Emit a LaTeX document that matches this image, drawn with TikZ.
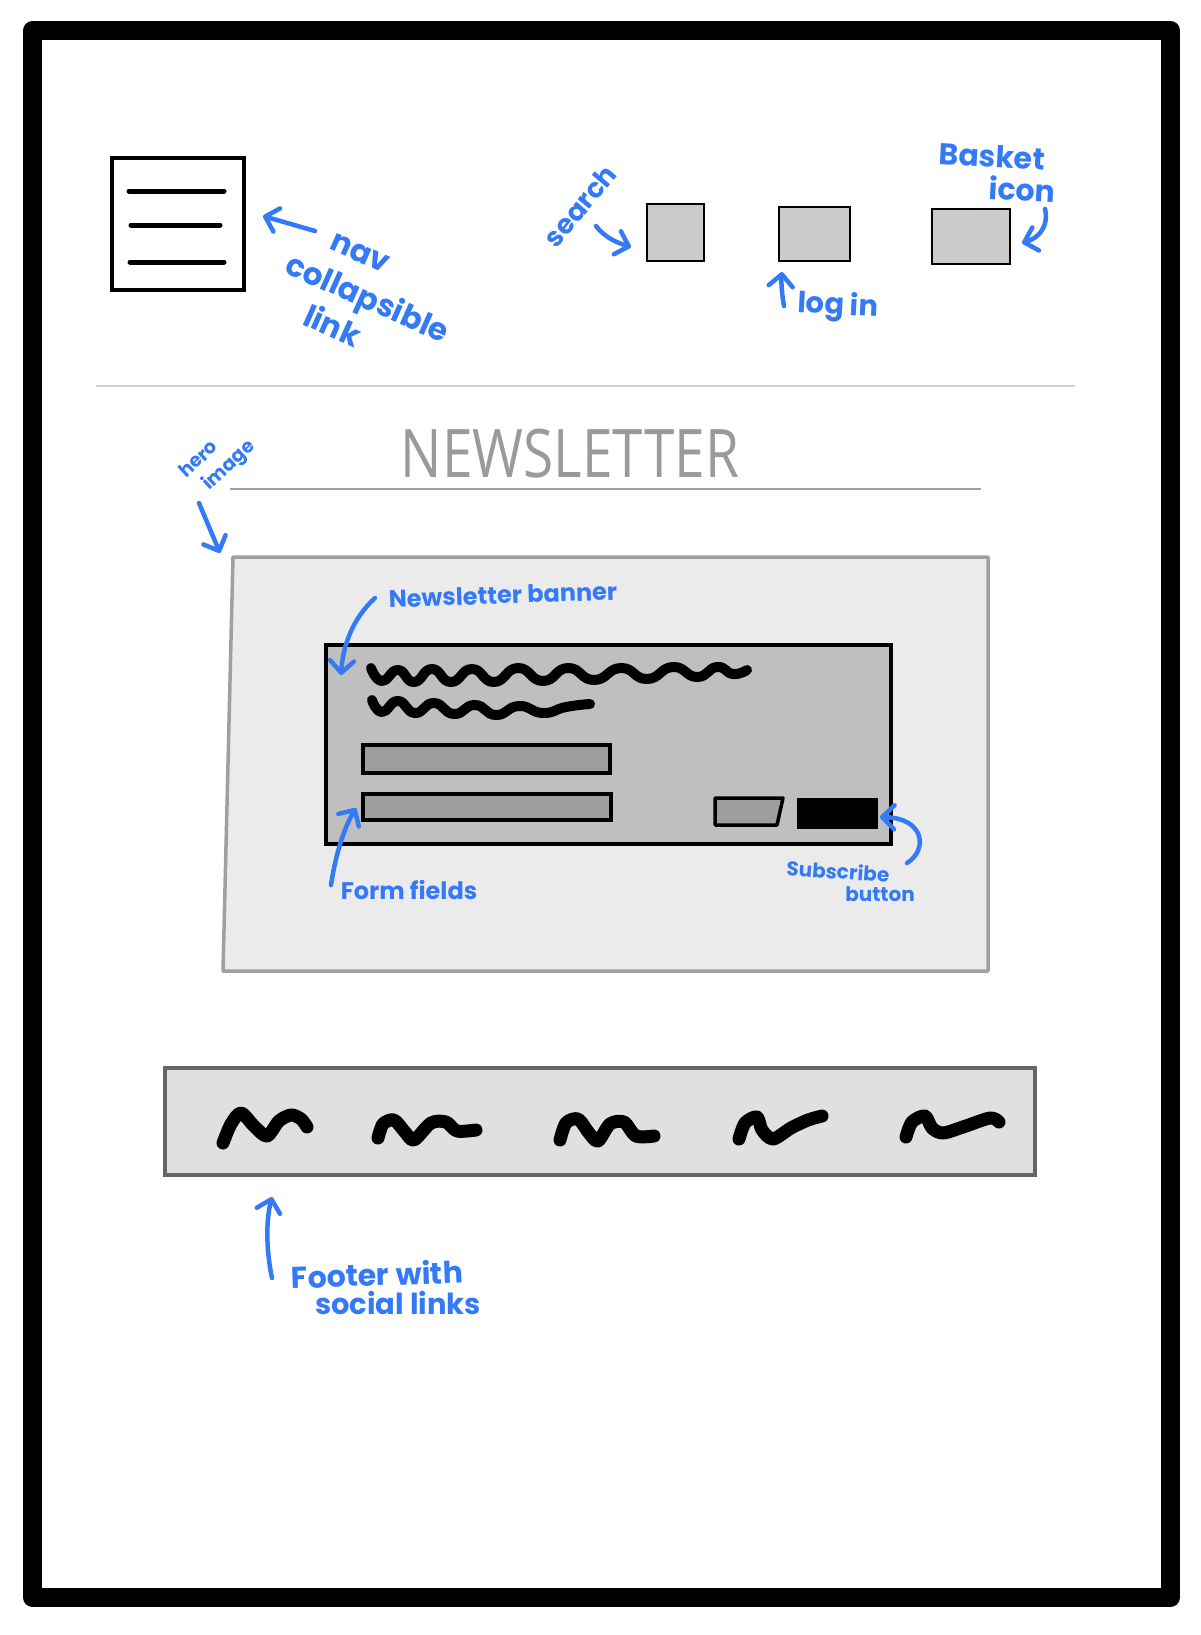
\documentclass[tikz,border=0pt]{standalone}
\usepackage{fontspec}
\setmainfont{Poppins}
\newfontfamily\titlefont{Open Sans}
\usetikzlibrary{arrows.meta}

\definecolor{ink}{RGB}{52,122,246}
\definecolor{rulegray}{RGB}{208,208,208}
\definecolor{titlegray}{RGB}{154,154,154}
\definecolor{heroedge}{RGB}{160,160,160}
\definecolor{herofill}{RGB}{235,235,235}
\definecolor{bannerfill}{RGB}{191,191,191}
\definecolor{fieldfill}{RGB}{158,158,158}
\definecolor{iconfill}{RGB}{203,203,203}
\definecolor{footfill}{RGB}{224,224,224}
\definecolor{footedge}{RGB}{102,102,102}

\tikzset{
  note/.style={text=ink, inner sep=0pt, font=\fontsize{#1}{#1}\selectfont\bfseries},
  note/.default=30,
  pointer/.style={draw=ink, line width=4.5, line cap=round, line join=round,
    -{Straight Barb[length=12,width=24,round]}},
  iconbox/.style={draw=black, line width=2.5, fill=iconfill, inner sep=0pt},
  field/.style={draw=black, line width=3.5, fill=fieldfill, inner sep=0pt},
  menuline/.style={line width=5, line cap=round},
  squiggle/.style={line width=10, line cap=round, line join=round},
  linkmark/.style={line width=13, line cap=round, line join=round},
}

\begin{document}
\begin{tikzpicture}[x=1pt, y=-1pt]
\useasboundingbox[fill=white] (0,0) rectangle (1201,1635);

% page frame
\draw[line width=19, line join=round] (32.5,30.5) rectangle (1170.5,1597.5);

% header: menu button
\node[draw=black, line width=4, minimum width=132, minimum height=132, inner sep=0pt] (menu) at (178,224) {};
\draw[menuline] (129,191) -- (224,191);
\draw[menuline] (131,225) -- (220,225);
\draw[menuline] (130,262) -- (224,262);

% header: icons
\node[iconbox, minimum width=57, minimum height=57] (search) at (675.5,232.5) {};
\node[iconbox, minimum width=71, minimum height=54] (login) at (814.5,234) {};
\node[iconbox, minimum width=78, minimum height=55] (basket) at (971,236.5) {};

% header divider
\draw[rulegray, line width=2] (96,386) -- (1075,386);

% page title
\node[text=titlegray, inner sep=0pt, xscale=0.82, transform shape,
      font=\fontsize{67}{67}\selectfont\titlefont] (title) at (570,454) {NEWSLETTER};
\draw[heroedge, line width=2] (230,489) -- (981,489);

% hero image
\coordinate (heroTL) at (233,557);
\coordinate (heroTR) at (988,557);
\coordinate (heroBR) at (988,971);
\coordinate (heroBL) at (223,971);
\draw[heroedge, fill=herofill, line width=3.5, line join=round]
  (heroTL) -- (heroTR) -- (heroBR) -- (heroBL) -- cycle;

% newsletter banner
\node[draw=black, line width=3.5, fill=bannerfill, minimum width=565, minimum height=199, inner sep=0pt] (banner) at (608.5,744.5) {};
\draw[squiggle] plot[smooth, tension=0.9] coordinates {
  (371,668) (382,681) (398,670) (414,682) (432,669) (451,682) (472,669) (494,682)
  (518,668) (543,681) (568,668) (594,680) (621,668) (647,679) (673,667) (697,677)
  (717,667) (733,674) (747,670)};
\draw[squiggle] plot[smooth, tension=0.9] coordinates {
  (372,700) (382,712) (398,701) (415,713) (434,703) (454,714) (475,705) (496,715)
  (519,706) (543,713) (566,707) (590,704)};

% form fields and buttons
\node[field, minimum width=247, minimum height=28] (field1) at (486.5,759) {};
\node[field, minimum width=248, minimum height=26] (field2) at (487,807) {};
\coordinate (resetA) at (715,798);
\coordinate (resetB) at (783,798);
\coordinate (resetC) at (777,825);
\coordinate (resetD) at (715,825);
\draw[field, line join=round] (resetA) -- (resetB) -- (resetC) -- (resetD) -- cycle;
\node[draw=black, fill=black, line width=1, minimum width=80, minimum height=30, inner sep=0pt] (subscribe) at (837,813) {};

% footer with social links
\node[draw=footedge, fill=footfill, line width=4.5, minimum width=870, minimum height=107, inner sep=0pt] (footer) at (600,1121.5) {};
\draw[linkmark] plot[smooth, tension=0.5] coordinates {
  (223,1143) (231,1124) (241,1113) (254,1126) (267,1136) (279,1121) (291,1115) (301,1119) (307,1127)};
\draw[linkmark] plot[smooth, tension=0.5] coordinates {
  (378,1138) (383,1124) (394,1120) (405,1132) (414,1140) (431,1123) (446,1122) (457,1131) (476,1130)};
\draw[linkmark] plot[smooth, tension=0.5] coordinates {
  (560,1140) (566,1123) (578,1119) (589,1133) (598,1141) (610,1124) (624,1122) (636,1136) (654,1136)};
\draw[linkmark] plot[smooth, tension=0.5] coordinates {
  (739,1139) (745,1123) (757,1117) (762,1130) (773,1139) (791,1128) (808,1120) (822,1116)};
\draw[linkmark] plot[smooth, tension=0.5] coordinates {
  (906,1137) (912,1122) (925,1116) (932,1128) (943,1133) (963,1127) (990,1118) (999,1122)};

% annotations
\node[note, rotate=-24, align=left, font=\fontsize{31}{40}\selectfont\bfseries] (navNote) at (367,300)
  {\hspace*{31pt}nav\\collapsible\\\hspace*{37pt}link};
\coordinate (navTail) at (315,231);
\coordinate (navTip) at (263,216);
\draw[pointer] (navTail) -- (navTip);

\node[note=27, rotate=50] (searchNote) at (580,206) {search};
\coordinate (searchTail) at (596,226);
\coordinate (searchTip) at (631,247);
\draw[pointer] (searchTail) .. controls (605,238) and (618,243) .. (searchTip);

\node[note=29, rotate=-3] (loginNote) at (838,307) {log in};
\coordinate (loginTail) at (784,306);
\coordinate (loginTip) at (782,272);
\draw[pointer] (loginTail) .. controls (782,295) and (781,283) .. (loginTip);

\node[note=30, rotate=-3] (basketNoteA) at (992,156) {Basket};
\node[note=30, rotate=-3] (basketNoteB) at (1022,189) {icon};
\coordinate (basketTail) at (1045,209);
\coordinate (basketTip) at (1022,243);
\draw[pointer] (basketTail) .. controls (1049,226) and (1039,238) .. (basketTip);

\node[note, rotate=43, align=left, font=\fontsize{19}{25}\selectfont\bfseries] (heroNote) at (218,460)
  {hero\\\hspace*{9pt}image};
\coordinate (heroTail) at (199,503);
\coordinate (heroTip) at (220,553);
\draw[pointer] (heroTail) -- (heroTip);

\node[note=24, rotate=2] (bannerNote) at (503,595) {Newsletter banner};
\coordinate (bannerTail) at (375,598);
\coordinate (bannerTip) at (341,675);
\draw[pointer] (bannerTail) .. controls (353,618) and (343,645) .. (bannerTip);

\node[note=24] (fieldsNote) at (409,890) {Form fields};
\coordinate (fieldsTail) at (331,885);
\coordinate (fieldsTip) at (356,808);
\draw[pointer] (fieldsTail) .. controls (336,852) and (345,826) .. (fieldsTip);

\node[note=20, rotate=-4] (subscribeNoteA) at (838,871) {Subscribe};
\node[note=20] (subscribeNoteB) at (880,894) {button};
\coordinate (subscribeTail) at (907,863);
\coordinate (subscribeTip) at (880,817);
\draw[pointer] (subscribeTail) .. controls (928,850) and (925,818) .. (subscribeTip);

\node[note=30, rotate=2] (footerNoteA) at (377,1274) {Footer with};
\node[note=29] (footerNoteB) at (398,1303) {social links};
\coordinate (footerTail) at (272,1278);
\coordinate (footerTip) at (272,1197);
\draw[pointer] (footerTail) .. controls (266,1250) and (266,1220) .. (footerTip);

\end{tikzpicture}
\end{document}
